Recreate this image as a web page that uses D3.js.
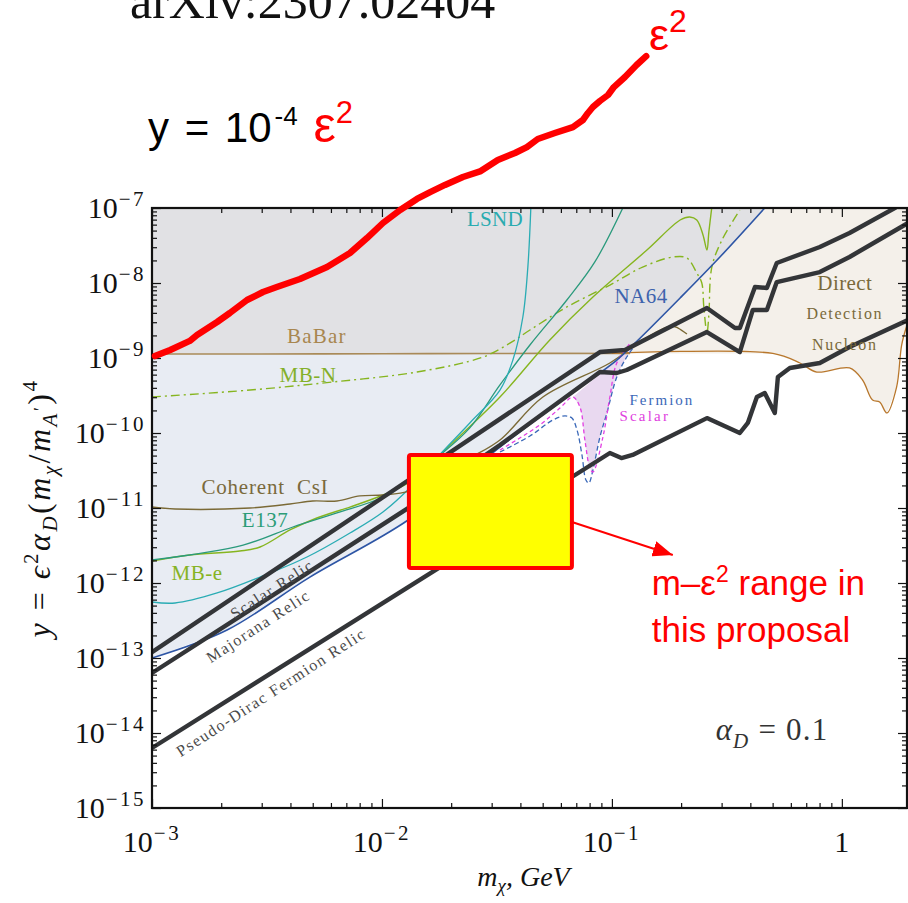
<!DOCTYPE html>
<html>
<head>
<meta charset="utf-8">
<script src="https://cdn.jsdelivr.net/npm/d3@7"></script>
<style>
  body { margin: 0; background: #fff; }
  svg { display: block; }
</style>
</head>
<body>
<svg id="chart" width="908" height="903"></svg>
<script>
// ---- Exclusion curves: dark-matter mass (GeV) and y = eps^2 alpha_D (m_chi/m_A')^4 ----
const redMass = [1.03e-3,1.20e-3,1.46e-3,1.57e-3,1.92e-3,2.18e-3,2.59e-3,3.04e-3,3.49e-3,4.40e-3,5.77e-3,7.26e-3,8.61e-3,1.01e-2,1.20e-2,1.42e-2,1.62e-2,1.88e-2,2.25e-2,2.69e-2,3.19e-2,3.79e-2,4.27e-2,4.76e-2,5.65e-2,6.77e-2,7.48e-2,7.87e-2,8.27e-2,8.87e-2,9.62e-2,0.102,0.114,0.128,0.141];
const redY    = [1.06e-9,1.28e-9,1.69e-9,2.03e-9,3.02e-9,3.98e-9,5.93e-9,7.59e-9,8.85e-9,1.13e-8,1.63e-8,2.51e-8,3.98e-8,6.31e-8,9.40e-8,1.32e-7,1.63e-7,2.03e-7,2.59e-7,3.11e-7,4.37e-7,5.41e-7,6.50e-7,8.32e-7,1.0e-6,1.20e-6,1.49e-6,1.85e-6,2.22e-6,2.67e-6,3.21e-6,4.10e-6,5.58e-6,8.07e-6,1.06e-5];

const na64Mass = [1e-3,2.12e-3,4.86e-3,1.30e-2,3.26e-2,5.94e-2,0.105,0.126,0.198,0.295,0.462];
const na64Y    = [1.0e-13,2.36e-13,1.20e-12,6.92e-12,6.50e-11,2.59e-10,9.40e-10,1.58e-9,6.31e-9,2.22e-8,1.0e-7];

const babarMass = [1e-3,3e-3,1e-2,3e-2,0.12];
const babarY    = [1.13e-9,1.13e-9,1.14e-9,1.15e-9,1.15e-9];

const ddMass = [0.1,0.501,0.657,0.778,1.08,1.23,1.36,1.46,1.57,1.73,1.82,1.92];
const ddY    = [1.15e-9,1.15e-9,8.58e-10,6.50e-10,7.36e-10,5.09e-10,2.75e-10,2.59e-10,1.85e-10,4.10e-10,1.49e-9,2.75e-9];

const scalarRelicMass = [1e-3,1e-2,8.87e-2,0.114,0.259,0.343,0.360,0.419,0.472,0.521,0.802,1.08,1.73,1.98];
const scalarRelicY    = [1.20e-13,1.36e-11,1.20e-9,1.28e-9,4.64e-9,2.51e-9,2.51e-9,8.85e-9,8.58e-9,1.85e-8,3.02e-8,4.64e-8,1.03e-7,1.24e-7];

const majoranaMass = [1e-3,1.32e-2,3.26e-2,8.87e-2,0.105,0.116,0.259,0.360,0.410,0.472,0.521,0.802,1.08,1.94];
const majoranaY    = [6.31e-14,1.03e-11,6.92e-11,6.50e-10,6.31e-10,6.92e-10,2.22e-9,1.20e-9,4.37e-9,4.37e-9,1.03e-8,1.40e-8,2.22e-8,6.31e-8];

const diracMass = [1e-3,1.79e-2,6.70e-2,9.80e-2,0.110,0.123,0.259,0.360,0.390,0.427,0.462,0.511,0.527,0.594,0.802,1.08,1.94];
const diracY    = [6.31e-15,1.63e-12,2.59e-11,5.41e-11,4.64e-11,5.09e-11,1.58e-10,1.0e-10,1.36e-10,3.02e-10,3.41e-10,1.85e-10,5.58e-10,7.36e-10,8.58e-10,1.40e-9,3.21e-9];

const csiMass = [1e-3,1.26e-3,2.67e-3,3.98e-3,5.0e-3,6.37e-3,8.02e-3,1.01e-2,1.32e-2,2.41e-2,3.26e-2,5.01e-2,9.80e-2,0.132,0.162,0.182,0.194,0.212];
const csiY    = [1.03e-11,9.70e-12,1.0e-11,1.13e-11,1.24e-11,1.24e-11,1.45e-11,1.49e-11,1.69e-11,4.64e-11,8.07e-11,3.02e-10,8.58e-10,1.63e-9,2.36e-9,2.67e-9,2.51e-9,2.09e-9];

const e137Mass = [1e-3,2.49e-3,4.10e-3,6.37e-3,1.01e-2,1.32e-2,1.79e-2,2.41e-2,3.26e-2,4.40e-2,6.37e-2,8.43e-2,0.112];
const e137Y    = [2.03e-12,3.21e-12,5.58e-12,8.58e-12,1.40e-11,2.51e-11,5.09e-11,1.17e-10,4.37e-10,1.49e-9,5.93e-9,1.91e-8,1.03e-7];

const lsndMass = [1e-3,1.26e-3,1.92e-3,2.95e-3,4.72e-3,7.26e-3,1.01e-2,1.32e-2,1.73e-2,2.41e-2,3.26e-2,3.71e-2,4.10e-2,4.31e-2,4.44e-2];
const lsndY    = [5.58e-13,5.41e-13,7.36e-13,1.20e-12,2.22e-12,4.64e-12,8.85e-12,1.85e-11,4.64e-11,1.36e-10,3.74e-10,9.40e-10,3.52e-9,1.63e-8,1.0e-7];

const mbeMass = [1e-3,1.46e-3,2.41e-3,2.95e-3,3.98e-3,5.21e-3,7.26e-3,1.01e-2,1.32e-2,1.98e-2,3.26e-2,5.37e-2,8.27e-2,0.142,0.198,0.218,0.234,0.249,0.259,0.264,0.272];
const mbeY    = [1.96e-12,2.36e-12,2.67e-12,3.02e-12,5.09e-12,7.36e-12,1.03e-11,1.49e-11,2.22e-11,6.92e-11,3.02e-10,1.74e-9,6.50e-9,2.75e-8,6.92e-8,7.59e-8,6.92e-8,4.37e-8,2.75e-8,4.79e-8,1.03e-7];

const mbnMass = [1e-3,2.67e-3,6.12e-3,1.42e-2,2.75e-2,3.60e-2,4.40e-2,6.37e-2,9.80e-2,0.136,0.184,0.212,0.234,0.246,0.251,0.259,0.264,0.272,0.301,0.360];
const mbnY    = [3.02e-10,3.74e-10,4.79e-10,6.50e-10,1.03e-9,1.58e-9,2.36e-9,4.79e-9,9.40e-9,1.63e-8,2.22e-8,2.15e-8,1.36e-8,1.0e-8,4.79e-9,2.15e-9,3.74e-9,1.63e-8,3.74e-8,9.40e-8];

const fermionMass = [3.26e-2,4.40e-2,5.54e-2,6.25e-2,6.70e-2,7.05e-2,7.41e-2,7.71e-2,7.94e-2,8.27e-2,8.87e-2,9.51e-2,0.105,0.116,0.128];
const fermionY    = [5.58e-11,9.12e-11,1.49e-10,1.69e-10,1.58e-10,1.10e-10,5.09e-11,2.36e-11,2.15e-11,3.21e-11,8.85e-11,1.85e-10,5.58e-10,1.03e-9,1.58e-9];

const scalarMass = [3.26e-2,4.86e-2,5.94e-2,6.77e-2,7.26e-2,7.63e-2,8.02e-2,8.27e-2,9.14e-2,9.80e-2,0.105,0.120];
const scalarY    = [5.93e-11,1.28e-10,2.15e-10,3.02e-10,2.22e-10,8.07e-11,3.41e-11,3.02e-11,8.85e-11,3.02e-10,8.58e-10,1.58e-9];

// Proposed search window (mass range and y range)
const boxMass = [0.0131, 0.067];
const boxY    = [1.58e-12, 5.1e-11];
const arrowMass = [0.067, 0.184];
const arrowY    = [6.5e-12, 2.36e-12];

// Axis ticks
const xTickLabels = [
  { v: 1e-3, base: "10", exp: "\u22123" },
  { v: 1e-2, base: "10", exp: "\u22122" },
  { v: 1e-1, base: "10", exp: "\u22121" },
  { v: 1,    base: "1",  exp: "" }
];
const yTickExps = [-7, -8, -9, -10, -11, -12, -13, -14, -15];

// Curve labels: [text, mass, y, colour, font size, letter spacing]
const curveLabels = [
  ["LSND", 3.10e-2, 5.75e-8, "#2aabb0", 21, 0.3],
  ["NA64", 0.134, 5.41e-9, "#3e63ad", 21, 0.5],
  ["BaBar", 5.21e-3, 1.58e-9, "#a8864f", 21, 1.2],
  ["MB-N", 4.77e-3, 4.79e-10, "#84b02a", 21, 0.5],
  ["Coherent  CsI", 3.10e-3, 1.54e-11, "#7a6a3c", 21, 0.8],
  ["E137", 3.10e-3, 5.58e-12, "#2c9c77", 21, 0.5],
  ["MB-e", 1.57e-3, 1.10e-12, "#86b324", 21, 0.5],
  ["Direct", 1.03, 8.07e-9, "#7a6a3a", 21, 0.4],
  ["Detection", 1.03, 3.31e-9, "#7a6a3a", 16, 1.6],
  ["Nucleon", 1.03, 1.28e-9, "#7a6a3a", 16, 1.6],
  ["Fermion", 0.165, 2.36e-10, "#3c68b8", 15, 2],
  ["Scalar", 0.139, 1.45e-10, "#e040e0", 15, 2.2]
];
const relicLabels = [
  ["Scalar Relic", 3.32e-3, 8.3e-13],
  ["Majorana Relic", 2.89e-3, 2.67e-13],
  ["Pseudo-Dirac Fermion Relic", 3.29e-3, 3.52e-14]
];

// ---- Scales ----
const xScale = d3.scaleLog().domain([1e-3, 1.92]).range([152, 907]);
const yScale = d3.scaleLog().domain([1e-15, 1e-7]).range([808, 208]);
const [X0, X1] = xScale.range();
const [Y0, Y1] = yScale.range(); // Y0 bottom, Y1 top

const svg = d3.select("#chart");
const defs = svg.append("defs");
const serif = "'Liberation Serif', 'Times New Roman', serif";
const sans = "'Liberation Sans', Arial, Helvetica, sans-serif";

const pts = (m, v) => d3.zip(m, v);
const line = d3.line().x(d => xScale(d[0])).y(d => yScale(d[1]));
const curvy = d3.line().x(d => xScale(d[0])).y(d => yScale(d[1])).curve(d3.curveCatmullRom.alpha(0.5));

defs.append("clipPath").attr("id", "plotClip")
  .append("rect").attr("x", X0).attr("y", Y1).attr("width", X1 - X0).attr("height", Y0 - Y1);

const na64Pts = pts(na64Mass, na64Y);
defs.append("clipPath").attr("id", "aboveNA64")
  .append("path").attr("d", line(na64Pts.concat([[0.462, 1e-5], [1e-4, 1e-5], [1e-4, 1e-13]])));
defs.append("clipPath").attr("id", "belowNA64")
  .append("path").attr("d", line(na64Pts.concat([[0.462, 1e-5], [10, 1e-5], [10, 1e-17], [1e-3, 1e-17]])));

const plot = svg.append("g").attr("clip-path", "url(#plotClip)");

// shaded exclusion regions
const babarPts = pts(babarMass, babarY);
plot.append("path")
  .attr("d", line(babarPts.concat([[0.12, 1e-17], [1e-4, 1e-17], [1e-4, 1.13e-9]])))
  .attr("fill", "#e8ecf3").attr("clip-path", "url(#aboveNA64)");
plot.append("path")
  .attr("d", line(babarPts.concat([[3, 1.15e-9], [3, 1e-5], [1e-4, 1e-5], [1e-4, 1.13e-9]])))
  .attr("fill", "#e1e1e4").attr("clip-path", "url(#aboveNA64)");
const ddPts = pts(ddMass, ddY);
plot.append("path")
  .attr("d", line(ddPts.concat([[3, 2.75e-9], [3, 1e-5], [0.1, 1e-5]])))
  .attr("fill", "#f4f0ea").attr("clip-path", "url(#belowNA64)");

// Fermion / scalar dip region
const dipPts = pts(scalarMass.slice(3, 8), scalarY.slice(3, 8))
  .concat(pts(fermionMass.slice(9), fermionY.slice(9)));
plot.append("path").attr("d", curvy(dipPts) + "Z").attr("fill", "#e9d9f0");

// thin experiment curves
function thin(m, v, color, width, dash) {
  plot.append("path").attr("d", curvy(pts(m, v)))
    .attr("fill", "none").attr("stroke", color).attr("stroke-width", width)
    .attr("stroke-dasharray", dash || null).attr("stroke-linejoin", "round");
}
thin(babarMass, babarY, "#a98a58", 1.6);
thin(ddMass, ddY, "#b8772c", 1.3);
thin(mbnMass, mbnY, "#86b51f", 1.4, "9,4,2,4");
thin(mbeMass, mbeY, "#86b51f", 1.4);
thin(e137Mass, e137Y, "#2a9a7c", 1.3);
thin(lsndMass, lsndY, "#2aacb4", 1.3);
thin(csiMass, csiY, "#7b6a36", 1.4);
thin(fermionMass, fermionY, "#3a68b8", 1.3, "5,3");
thin(scalarMass, scalarY, "#e23ee2", 1.3, "4,3");
plot.append("path").attr("d", curvy(na64Pts))
  .attr("fill", "none").attr("stroke", "#2d55a5").attr("stroke-width", 1.6);

// thermal relic targets
[[scalarRelicMass, scalarRelicY], [majoranaMass, majoranaY], [diracMass, diracY]].forEach(([m, v]) => {
  plot.append("path").attr("d", line(pts(m, v)))
    .attr("fill", "none").attr("stroke", "#333538").attr("stroke-width", 4.4)
    .attr("stroke-linejoin", "round");
});

// curve labels
curveLabels.forEach(([t, m, v, c, fs, ls]) => {
  plot.append("text").attr("x", xScale(m)).attr("y", yScale(v))
    .attr("text-anchor", "middle").attr("font-family", serif)
    .attr("font-size", fs).attr("letter-spacing", ls).attr("fill", c)
    .attr("xml:space", "preserve").text(t);
});
relicLabels.forEach(([t, m, v]) => {
  plot.append("text")
    .attr("transform", `translate(${xScale(m)},${yScale(v)}) rotate(-33)`)
    .attr("text-anchor", "middle").attr("dy", "0.35em")
    .attr("font-family", serif).attr("font-size", 16).attr("letter-spacing", 1.5)
    .attr("fill", "#4a4a4a").text(t);
});

// alpha_D annotation
const aText = plot.append("text").attr("x", xScale(0.497)).attr("y", yScale(8.07e-15))
  .attr("text-anchor", "middle").attr("font-family", serif).attr("font-size", 31)
  .attr("letter-spacing", 1.2).attr("fill", "#333");
aText.append("tspan").attr("font-style", "italic").text("\u03b1");
aText.append("tspan").attr("font-style", "italic").attr("font-size", 21).attr("dy", 8).text("D");
aText.append("tspan").attr("dy", -8).text(" = 0.1");

// ---- Axes ----
const allX = xScale.ticks();
const majorX = allX.filter(v => Math.abs(Math.log10(v) - Math.round(Math.log10(v))) < 1e-9);
const minorX = allX.filter(v => !majorX.includes(v));
const allY = yScale.ticks();
const majorY = allY.filter(v => Math.abs(Math.log10(v) - Math.round(Math.log10(v))) < 1e-9);
const minorY = allY.filter(v => !majorY.includes(v));

function axisGroup(gen, tx, ty) {
  const g = svg.append("g").attr("transform", `translate(${tx},${ty})`).call(gen);
  g.select(".domain").remove();
  g.selectAll("text").remove();
  g.selectAll("line").attr("stroke", "#111").attr("stroke-width", 1.2);
  return g;
}
axisGroup(d3.axisBottom(xScale).tickValues(majorX).tickSize(-9), 0, Y0);
axisGroup(d3.axisBottom(xScale).tickValues(minorX).tickSize(-5), 0, Y0);
axisGroup(d3.axisTop(xScale).tickValues(majorX).tickSize(-9), 0, Y1);
axisGroup(d3.axisTop(xScale).tickValues(minorX).tickSize(-5), 0, Y1);
axisGroup(d3.axisLeft(yScale).tickValues(majorY).tickSize(-9), X0, 0);
axisGroup(d3.axisLeft(yScale).tickValues(minorY).tickSize(-5), X0, 0);
axisGroup(d3.axisRight(yScale).tickValues(majorY).tickSize(-9), X1, 0);
axisGroup(d3.axisRight(yScale).tickValues(minorY).tickSize(-5), X1, 0);

svg.append("rect").attr("x", X0).attr("y", Y1).attr("width", X1 - X0).attr("height", Y0 - Y1)
  .attr("fill", "none").attr("stroke", "#111").attr("stroke-width", 2.2);

// tick labels
xTickLabels.forEach(d => {
  const t = svg.append("text").attr("x", xScale(d.v)).attr("y", 852)
    .attr("text-anchor", "middle").attr("font-family", serif).attr("font-size", 30).attr("fill", "#111");
  t.append("tspan").text(d.base);
  if (d.exp) t.append("tspan").attr("font-size", 21).attr("dx", 1).attr("dy", -12)
    .attr("letter-spacing", 2.5).text(d.exp);
});
yTickExps.forEach(e => {
  const t = svg.append("text").attr("x", 146).attr("y", yScale(Math.pow(10, e)) + 10)
    .attr("text-anchor", "end").attr("font-family", serif).attr("font-size", 30).attr("fill", "#111");
  t.append("tspan").text("10");
  t.append("tspan").attr("font-size", 21).attr("dx", 1).attr("dy", -12)
    .attr("letter-spacing", 2.5).text("\u2212" + (-e));
});

// axis titles
const xt = svg.append("text").attr("x", (X0 + X1) / 2 - 6).attr("y", 886)
  .attr("text-anchor", "middle").attr("font-family", serif).attr("font-size", 28)
  .attr("font-style", "italic").attr("fill", "#111");
xt.append("tspan").text("m");
xt.append("tspan").attr("font-size", 19).attr("dy", 6).text("\u03c7");
xt.append("tspan").attr("dy", -6).text(", GeV");

const yt = svg.append("text").attr("transform", `translate(50,${(Y0 + Y1) / 2}) rotate(-90)`)
  .attr("text-anchor", "middle").attr("font-family", serif).attr("fill", "#111")
  .attr("letter-spacing", 2.5);
const runs = [
  ["y", 1, 0, 32], [" = ", 0, 0, 32], ["\u03f5", 1, 0, 32], ["2", 0, -12, 21], ["\u03b1", 1, 0, 32],
  ["D", 1, 7, 21], ["(", 0, 0, 32], ["m", 1, 0, 32], ["\u03c7", 1, 7, 21], ["/", 0, 0, 32],
  ["m", 1, 0, 32], ["A", 1, 7, 21], ["\u2032", 0, -3, 18], [")", 0, 0, 32], ["4", 0, -13, 21]
];
let prev = 0;
runs.forEach(([s, it, sh, fs]) => {
  yt.append("tspan").attr("font-style", it ? "italic" : "normal").attr("font-size", fs)
    .attr("dy", sh - prev).text(s);
  prev = sh;
});

// ---- Proposal window, arrow and callouts ----
svg.append("rect")
  .attr("x", xScale(boxMass[0])).attr("y", yScale(boxY[1]))
  .attr("width", xScale(boxMass[1]) - xScale(boxMass[0]))
  .attr("height", yScale(boxY[0]) - yScale(boxY[1]))
  .attr("rx", 2).attr("fill", "#ffff00").attr("stroke", "#ff0000").attr("stroke-width", 4);

defs.append("marker").attr("id", "arrowHead").attr("viewBox", "0 0 20 16")
  .attr("refX", 20).attr("refY", 8).attr("markerWidth", 20).attr("markerHeight", 16)
  .attr("markerUnits", "userSpaceOnUse").attr("orient", "auto")
  .append("path").attr("d", "M0,0L20,8L0,16Z").attr("fill", "#ff0000");
svg.append("path").attr("d", line(pts(arrowMass, arrowY)))
  .attr("stroke", "#ff0000").attr("stroke-width", 2).attr("fill", "none")
  .attr("marker-end", "url(#arrowHead)");

const call1 = svg.append("text").attr("x", xScale(0.149)).attr("y", yScale(6.9e-13))
  .attr("font-family", sans).attr("font-size", 35).attr("fill", "#ff0000");
call1.append("tspan").text("m\u2013\u03b5");
call1.append("tspan").attr("font-size", 23).attr("dy", -13).text("2");
call1.append("tspan").attr("dy", 13).text(" range in");
svg.append("text").attr("x", xScale(0.149)).attr("y", yScale(1.63e-13))
  .attr("font-family", sans).attr("font-size", 35).attr("fill", "#ff0000").text("this proposal");

// eps^2 curve (drawn on top, extends above the frame)
svg.append("path").attr("d", line(pts(redMass, redY)))
  .attr("fill", "none").attr("stroke", "#ff0000").attr("stroke-width", 6.5)
  .attr("stroke-linejoin", "round").attr("stroke-linecap", "round");

// header texts
svg.append("text").attr("x", 130).attr("y", 18).attr("font-family", serif)
  .attr("font-size", 50).attr("fill", "#111").text("arXiv:2307.02404");

const yEq = svg.append("text").attr("x", 148).attr("y", 142).attr("font-family", sans)
  .attr("font-size", 42).attr("word-spacing", 4).attr("fill", "#000");
yEq.append("tspan").text("y = 10");
yEq.append("tspan").attr("font-size", 26).attr("dx", 3).attr("dy", -17).text("-4");
yEq.append("tspan").attr("dy", 17).text(" ");
yEq.append("tspan").attr("fill", "#ff0000").attr("font-size", 50).text("\u03b5");
yEq.append("tspan").attr("fill", "#ff0000").attr("font-size", 31).attr("dy", -19).text("2");

const epsTop = svg.append("text").attr("x", 649).attr("y", 50).attr("font-family", sans)
  .attr("font-size", 45).attr("fill", "#ff0000");
epsTop.append("tspan").text("\u03b5");
epsTop.append("tspan").attr("font-size", 32).attr("dy", -18).text("2");
</script>
</body>
</html>
